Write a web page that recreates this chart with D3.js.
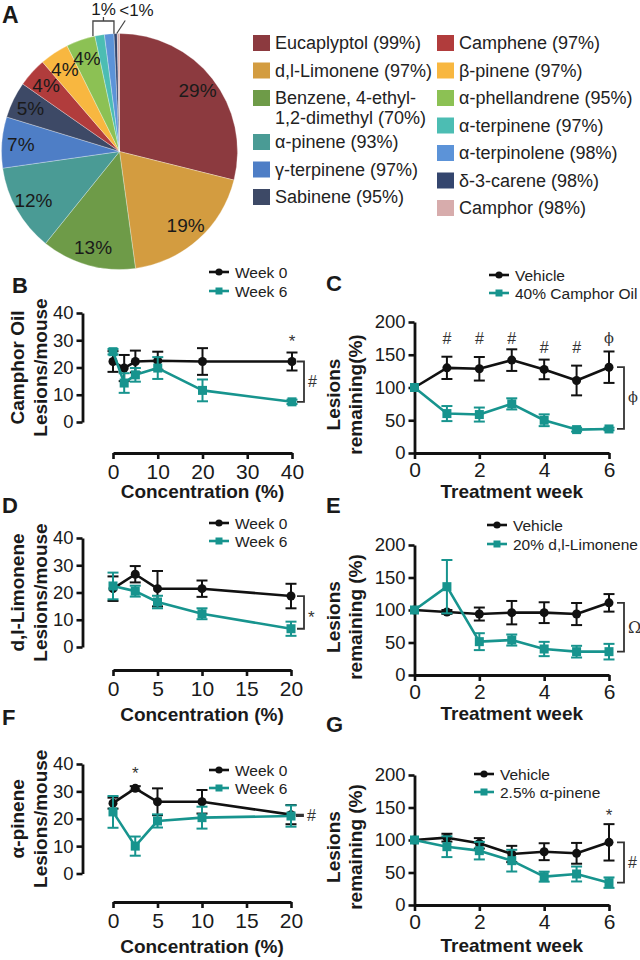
<!DOCTYPE html>
<html><head><meta charset="utf-8">
<script src="https://cdn.jsdelivr.net/npm/d3@7"></script>
<style>
body{margin:0;background:#fff;}
svg{display:block;font-family:"Liberation Sans",Arial,Helvetica,sans-serif;}
</style></head><body>
<svg id="fig" width="640" height="960"></svg>
<script>
// ---------------- DATA ----------------
const pieNames = ["Eucaplyptol","d,l-Limonene","Benzene, 4-ethyl-1,2-dimethyl","α-pinene","γ-terpinene","Sabinene",
  "Camphene","β-pinene","α-phellandrene","α-terpinene","α-terpinolene","δ-3-carene","Camphor"];
const piePercents = [29,19,13,12,7,5,4,4,4,1.3,1.3,0.45,0.3];
const piePurity = [99,97,70,93,97,95,97,97,95,97,98,98,98];

const concB = [0,2.5,5,10,20,40];
const bWeek0 = [22.2,19.8,22.2,22.5,22.2,22.2];
const bWeek0Err = [3.8,4.8,4.0,3.3,4.9,3.3];
const bWeek6 = [25.8,14.3,17.3,19.8,11.6,7.4];
const bWeek6Err = [1.0,3.6,2.5,4.0,4.0,0.8];

const weeks = [0,1,2,3,4,5,6];
const cVehicle = [100,130,128.6,141.8,127.6,110.7,131];
const cVehicleErr = [0,17,18,16.5,15,22.7,24];
const cCamphor = [100,60.2,58.7,75,50,35.7,36.7];
const cCamphorErr = [0,11.5,10.7,8.5,9,3,2];

const concD = [0,2.5,5,10,20];
const dWeek0 = [21.4,26.7,21.4,21.4,18.7];
const dWeek0Err = [4.5,3.0,6.5,3.0,4.5];
const dWeek6 = [22.4,20.5,16.5,12.2,6.7];
const dWeek6Err = [4.9,2.0,2.3,2.0,2.6];

const eVehicle = [100,97,93.8,95.9,95.9,93.8,111];
const eVehicleErr = [0,3,10,18,16,17,13.5];
const eLimonene = [100,135.9,51.3,53.8,40,35.9,35.9];
const eLimoneneErr = [0,41,13,8.5,11,9,12];

const concF = [0,2.5,5,10,20];
const fWeek0 = [25.7,31.1,26.2,26.2,21.5];
const fWeek0Err = [2.0,0.8,4.9,4.3,3.5];
const fWeek6 = [22.5,10.0,19.2,20.4,21.0];
const fWeek6Err = [5.8,3.5,2.4,4.0,3.9];

const gVehicle = [100,103.6,94.9,78.5,82,79.5,96.4];
const gVehicleErr = [0,6,8,12.5,13,16,28];
const gPinene = [100,89.7,83.6,68.2,43.6,47.7,34.4];
const gPineneErr = [0,16,13.5,16.7,7.7,11.5,8];

const lesionTicks = [0,10,20,30,40];
const remainTicks = [0,50,100,150,200];
const concTicks40 = [0,10,20,30,40];
const concTicks20 = [0,5,10,15,20];
const weekTicks = [0,2,4,6];

const legendConc = ["Week 0","Week 6"];
const legendC = ["Vehicle","40% Camphor Oil"];
const legendE = ["Vehicle","20% d,l-Limonene"];
const legendG = ["Vehicle","2.5% α-pinene"];

// ---------------- STYLE ----------------
const pieColors = ["#8C3A3F","#D39C40","#6E9B48","#4A9B95","#4E7EC6","#3D4966",
  "#B13C3C","#F8B740","#8CC154","#4CBDB3","#5C93D8","#34466E","#D7ACAC"];
const BLACK = "#111111", TEAL = "#17948E", TXT = "#1a1a1a";
const SERIF = "DejaVu Serif, Liberation Serif, serif";
const SANS = "Liberation Sans, Arial, sans-serif";

const svg = d3.select("#fig");
svg.append("rect").attr("width",640).attr("height",960).attr("fill","#fff");

// ---------------- PANEL A: PIE ----------------
const cx = 119.5, cy = 151.5, R = 118;
const pieArcs = d3.pie().sort(null).value(d=>d)(piePercents);
const arc = d3.arc().innerRadius(0).outerRadius(R);
const gPie = svg.append("g").attr("transform",`translate(${cx},${cy})`);
gPie.selectAll("path").data(pieArcs).join("path")
  .attr("d",arc).attr("fill",(d,i)=>pieColors[i]).attr("stroke","#fff").attr("stroke-width",0.3);
const labelArc = d3.arc().innerRadius(99).outerRadius(99);
gPie.selectAll("text").data(pieArcs.filter(d=>d.data>=4)).join("text")
  .attr("transform",d=>`translate(${labelArc.centroid(d)})`)
  .attr("text-anchor","middle").attr("dy","0.36em")
  .attr("font-size",19).attr("fill",TXT).text(d=>d3.format("d")(d.data)+"%");

// bracket over the two 1% slices
const aStart = pieArcs[9].startAngle, aEnd = pieArcs[10].endAngle;
const bx1 = R*Math.sin(aStart)-2, bx2 = R*Math.sin(aEnd);
const byTop = -R-12.5;
const gB = gPie.append("g").attr("stroke","#444").attr("stroke-width",1.3).attr("fill","none");
gB.append("path").attr("d",`M${bx1},${-R*Math.cos(aStart)}V${byTop}H${bx2}V${-R*Math.cos(aEnd)}`);
gB.append("line").attr("x1",(bx1+bx2)/2).attr("x2",(bx1+bx2)/2).attr("y1",byTop).attr("y2",byTop-4);
gPie.append("text").attr("x",(bx1+bx2)/2).attr("y",byTop-6).attr("text-anchor","middle")
  .attr("font-size",17).attr("fill",TXT).text("1%");
const aSmall = (pieArcs[11].startAngle+pieArcs[12].endAngle)/2;
const sx0 = R*Math.sin(aSmall), sy0 = -R*Math.cos(aSmall);
gPie.append("line").attr("x1",sx0).attr("y1",sy0).attr("x2",sx0+8.5).attr("y2",sy0-13)
  .attr("stroke","#444").attr("stroke-width",1.2);
gPie.append("text").attr("x",sx0+2.5).attr("y",byTop-5.5).attr("font-size",17).attr("fill",TXT).text("<1%");

svg.append("text").attr("x",2).attr("y",23).attr("font-size",23).attr("font-weight","bold").attr("fill",TXT).text("A");

// pie legend
const legendCols = [{sx:253, tx:275, idx:[0,1,2,3,4,5]},{sx:437, tx:459, idx:[6,7,8,9,10,11,12]}];
legendCols.forEach(col=>{
  let yy = 43;
  col.idx.forEach(i=>{
    const full = `${pieNames[i]} (${piePurity[i]}%)`;
    const cut = full.indexOf("ethyl-");
    const lines = cut>=0 ? [full.slice(0,cut+6), full.slice(cut+6)] : [full];
    svg.append("rect").attr("x",col.sx).attr("y",yy-8).attr("width",17).attr("height",16).attr("fill",pieColors[i]);
    lines.forEach((ln,k)=>{
      svg.append("text").attr("x",col.tx).attr("y",yy+k*20).attr("dy","0.36em")
        .attr("font-size",18).attr("fill","#222").text(ln);
    });
    yy += 27.5 + (lines.length-1)*16.5;
  });
});

// ---------------- LINE PANELS ----------------
function drawPanel(o){
  const g = svg.append("g");
  const x = d3.scaleLinear().domain(o.xDomain).range([o.x0,o.x1]);
  const y = d3.scaleLinear().domain(o.yDomain).range([o.yBot,o.yTop]);

  const ya = g.append("g").attr("transform",`translate(${o.yAxisX},0)`)
    .call(d3.axisLeft(y).tickValues(o.yTicks).tickFormat(d3.format("d")).tickSize(6).tickSizeOuter(0).tickPadding(3));
  const xa = g.append("g").attr("transform",`translate(0,${o.xAxisY})`)
    .call(d3.axisBottom(x).tickValues(o.xTicks).tickFormat(d3.format("d")).tickSize(6).tickSizeOuter(0).tickPadding(o.xPad||5));
  [ya,xa].forEach(a=>{
    a.select(".domain").attr("stroke",BLACK).attr("stroke-width",2.8);
    a.selectAll(".tick line").attr("stroke",BLACK).attr("stroke-width",2.6);
    a.selectAll(".tick text").attr("fill",TXT).attr("font-family",SANS);
  });
  ya.selectAll(".tick text").attr("font-size",18.5);
  xa.selectAll(".tick text").attr("font-size",21);

  // titles
  g.append("text").attr("x",(o.x0+o.x1)/2).attr("y",o.xTitleY).attr("dy","0.36em")
    .attr("text-anchor","middle").attr("font-size",19).attr("font-weight","bold").attr("fill",TXT).text(o.xTitle);
  o.yTitle.forEach((t,k)=>{
    g.append("text").attr("transform",`translate(${o.yTitleX[k]},${o.yTitleCY}) rotate(-90)`)
      .attr("dy","0.36em").attr("text-anchor","middle").attr("font-size",19).attr("font-weight","bold")
      .attr("fill",TXT).text(t);
  });
  g.append("text").attr("x",o.letter[0]).attr("y",o.letter[1]).attr("font-size",22)
    .attr("font-weight","bold").attr("fill",TXT).text(o.id);

  // series
  o.series.forEach(s=>{
    const pts = o.xs.map((xv,i)=>({px:x(xv), py:y(s.v[i]), lo:y(s.v[i]-s.e[i]), hi:y(s.v[i]+s.e[i]), e:s.e[i]}));
    const sg = g.append("g");
    sg.append("path").attr("d",d3.line().x(d=>d.px).y(d=>d.py)(pts))
      .attr("fill","none").attr("stroke",s.color).attr("stroke-width",2.6).attr("stroke-linejoin","round");
    const eb = sg.append("g").attr("stroke",s.color).attr("stroke-width",2);
    const ebPts = pts.filter(p=>p.e>0);
    eb.selectAll("line.v").data(ebPts).join("line").attr("class","v")
      .attr("x1",d=>d.px).attr("x2",d=>d.px).attr("y1",d=>d.lo).attr("y2",d=>d.hi);
    eb.selectAll("line.t").data(ebPts).join("line").attr("class","t")
      .attr("x1",d=>d.px-5.5).attr("x2",d=>d.px+5.5).attr("y1",d=>d.hi).attr("y2",d=>d.hi);
    eb.selectAll("line.b").data(ebPts).join("line").attr("class","b")
      .attr("x1",d=>d.px-5.5).attr("x2",d=>d.px+5.5).attr("y1",d=>d.lo).attr("y2",d=>d.lo);
    if(s.shape==="circle"){
      sg.selectAll("circle").data(pts).join("circle").attr("cx",d=>d.px).attr("cy",d=>d.py).attr("r",4.5).attr("fill",s.color);
    } else {
      sg.selectAll("rect").data(pts).join("rect").attr("x",d=>d.px-4.5).attr("y",d=>d.py-4.5)
        .attr("width",9).attr("height",9).attr("fill",s.color);
    }
  });

  // legend
  o.series.forEach((s,k)=>{
    const ly = o.legend.y[k], lx = o.legend.x;
    g.append("line").attr("x1",lx).attr("x2",lx+20).attr("y1",ly).attr("y2",ly).attr("stroke",s.color).attr("stroke-width",2.6);
    if(s.shape==="circle") g.append("circle").attr("cx",lx+10).attr("cy",ly).attr("r",3.6).attr("fill",s.color);
    else g.append("rect").attr("x",lx+6.5).attr("y",ly-3.5).attr("width",7).attr("height",7).attr("fill",s.color);
    g.append("text").attr("x",lx+26).attr("y",ly).attr("dy","0.36em").attr("font-size",15.5).attr("fill","#222").text(o.legend.labels[k]);
  });

  // annotations
  const dyFor = t => t==="*" ? "0.62em" : (t==="ϕ" ? "0.3em" : "0.36em");
  const fontFor = t => (t==="ϕ"||t==="Ω") ? SERIF : SANS;
  const sizeFor = t => t==="*" ? 17 : (t==="ϕ" ? 14.5 : 16);
  o.annots.forEach(a=>{
    g.append("text").attr("x",x(a.x)).attr("y",y(a.y)).attr("dy",dyFor(a.t)).attr("text-anchor","middle")
      .attr("font-size",sizeFor(a.t)).attr("font-family",fontFor(a.t)).attr("fill","#333").text(a.t);
  });

  // bracket between last points
  const last = o.xs.length-1;
  const bxl = x(o.xs[last]) + o.br.off;
  const yA = y(o.series[0].v[last]), yB = y(o.series[1].v[last]);
  g.append("path").attr("d",`M${bxl-7},${yA}H${bxl}V${yB}H${bxl-7}`)
    .attr("fill","none").attr("stroke","#333").attr("stroke-width",1.8);
  g.append("text").attr("x",bxl+4).attr("y",(yA+yB)/2).attr("dy",dyFor(o.br.t))
    .attr("font-size",sizeFor(o.br.t)).attr("font-family",fontFor(o.br.t)).attr("fill","#333").text(o.br.t);
}

const concAxes = (yTop,yBot,xAxisY)=>({yAxisX:82.5, yTop, yBot, x0:113, xAxisY, yDomain:[0,40], yTicks:lesionTicks, yTitleX:[17,40], yTitleCY:(yTop+yBot)/2, xPad:5});
const weekAxes = (yTop,yBot)=>({yAxisX:414.5, yTop, yBot, x0:414.5, x1:609, xAxisY:yBot, yDomain:[0,200], yTicks:remainTicks,
  xDomain:[0,6], xTicks:weekTicks, xs:weeks, yTitleX:[333,355], yTitleCY:(yTop+yBot)/2+7, xTitle:"Treatment week", xPad:3});

drawPanel(Object.assign(concAxes(313,422,453),{
  id:"B", letter:[12,293], x1:292, xDomain:[0,40], xTicks:concTicks40, xs:concB, xTitleY:491, xTitle:"Concentration (%)",
  yTitle:["Camphor Oil","Lesions/mouse"],
  series:[{v:bWeek0,e:bWeek0Err,color:BLACK,shape:"circle"},{v:bWeek6,e:bWeek6Err,color:TEAL,shape:"square"}],
  legend:{x:209,y:[272,291],labels:legendConc},
  annots:[{x:40,y:31.5,t:"*"}], br:{off:12,t:"#"}
}));
drawPanel(Object.assign(weekAxes(322,453),{
  id:"C", letter:[326,291], xTitleY:491,
  yTitle:["Lesions","remaining(%)"],
  series:[{v:cVehicle,e:cVehicleErr,color:BLACK,shape:"circle"},{v:cCamphor,e:cCamphorErr,color:TEAL,shape:"square"}],
  legend:{x:489,y:[275,293],labels:legendC},
  annots:[{x:1,y:175,t:"#"},{x:2,y:175,t:"#"},{x:3,y:175,t:"#"},{x:4,y:162,t:"#"},{x:5,y:162,t:"#"},{x:6,y:175,t:"ϕ"}],
  br:{off:15,t:"ϕ"}
}));
drawPanel(Object.assign(concAxes(538,647,670),{
  id:"D", letter:[2,513], x1:291, xDomain:[0,20], xTicks:concTicks20, xs:concD, xTitleY:714, xTitle:"Concentration (%)",
  yTitle:["d,l-Limonene","Lesions/mouse"],
  series:[{v:dWeek0,e:dWeek0Err,color:BLACK,shape:"circle"},{v:dWeek6,e:dWeek6Err,color:TEAL,shape:"square"}],
  legend:{x:209,y:[523,541],labels:legendConc},
  annots:[], br:{off:13,t:"*"}
}));
drawPanel(Object.assign(weekAxes(545,675),{
  id:"E", letter:[326,513], xTitleY:713,
  yTitle:["Lesions","remaining (%)"],
  series:[{v:eVehicle,e:eVehicleErr,color:BLACK,shape:"circle"},{v:eLimonene,e:eLimoneneErr,color:TEAL,shape:"square"}],
  legend:{x:487,y:[525,544],labels:legendE},
  annots:[], br:{off:15,t:"Ω"}
}));
drawPanel(Object.assign(concAxes(764,873.5,902),{
  id:"F", letter:[2,725], x1:291, xDomain:[0,20], xTicks:concTicks20, xs:concF, xTitleY:946, xTitle:"Concentration (%)",
  yTitle:["α-pinene","Lesions/mouse"],
  series:[{v:fWeek0,e:fWeek0Err,color:BLACK,shape:"circle"},{v:fWeek6,e:fWeek6Err,color:TEAL,shape:"square"}],
  legend:{x:209,y:[770,788],labels:legendConc},
  annots:[{x:2.5,y:38.5,t:"*"}], br:{off:12,t:"#"}
}));
drawPanel(Object.assign(weekAxes(775,905),{
  id:"G", letter:[326,732], xTitleY:945,
  yTitle:["Lesions","remaining (%)"],
  series:[{v:gVehicle,e:gVehicleErr,color:BLACK,shape:"circle"},{v:gPinene,e:gPineneErr,color:TEAL,shape:"square"}],
  legend:{x:474,y:[774,792],labels:legendG},
  annots:[{x:6,y:146,t:"*"}], br:{off:15,t:"#"}
}));
</script>
</body></html>
